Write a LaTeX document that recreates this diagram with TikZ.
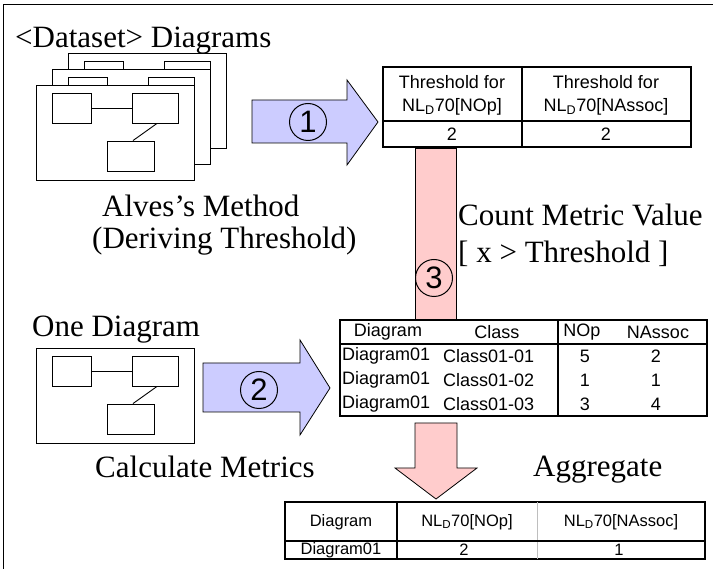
\documentclass[tikz,border=0pt]{standalone}
\usepackage{fontspec}
\setmainfont{Liberation Serif}
\newfontfamily\tabfont{Liberation Sans}
\definecolor{lavender}{RGB}{204,204,255}
\definecolor{rosy}{RGB}{255,204,204}
\definecolor{gridgray}{RGB}{190,190,190}
\newcommand{\nld}{NL\textsubscript{D}70}
% one small class diagram sheet: frame, three classes and two associations
\newcommand{\umlsheet}[3]{%
  \begin{scope}[shift={(#1,#2)}]
    \draw[sheetline, fill=white] (0,0) rectangle (158,95);
    \node[classbox, minimum width=39pt] (#3l) at (35.5,23) {};
    \node[classbox, minimum width=46pt] (#3r) at (119,23) {};
    \node[classbox, minimum width=47pt] (#3b) at (94.5,71) {};
    \draw[sheetline] (#3l.east) -- (#3r.west);
    \draw[sheetline] ([xshift=2pt]#3r.south) -- ([xshift=2.5pt]#3b.north);
  \end{scope}}
\begin{document}
\begin{tikzpicture}[x=1pt,y=-1pt,
  sheetline/.style={line width=0.9pt},
  classbox/.style={draw, line width=0.9pt, fill=white, minimum height=30pt, inner sep=0},
  label/.style={font=\fontsize{31}{31}\selectfont, inner sep=0, anchor=base west},
  tabtxt/.style={font=\tabfont\fontsize{18}{18}\selectfont, inner sep=0},
  smalltab/.style={font=\tabfont\fontsize{16.5}{16.5}\selectfont, inner sep=0},
  tabline/.style={line width=1.1pt},
  blockarrow/.style={draw, line width=0.8pt, fill=#1, line join=miter},
  circnum/.style={circle, draw, line width=1pt, minimum size=37pt, inner sep=0,
    font=\tabfont\fontsize{31}{31}\selectfont}]
\useasboundingbox (0,0) rectangle (713,569);
% frame edges
\draw[line width=1pt] (3.5,569) -- (3.5,4.5) -- (713,4.5);

% stacked dataset diagrams
\umlsheet{68}{53}{sa}
\umlsheet{52}{69}{sb}
\umlsheet{36}{85}{sc}
\node[label] (dataset) at (15,48) {<Dataset> Diagrams};
\node[label] (alves) at (102,217) {Alves’s Method};
\node[label] (deriving) at (92,249) {(Deriving Threshold)};

% step 1 arrow
\draw[blockarrow=lavender] (252,100) -- (347,100) -- (347,80) -- (378,122)
  -- (347,165) -- (347,143) -- (252,143) -- cycle;
\node[circnum] (one) at (308,122) {1};

% threshold table
\draw[tabline, fill=white] (383,67) rectangle (691,147);
\draw[tabline] (522,67) -- (522,147);
\draw[tabline] (383,121) -- (691,121);
\draw[line width=2pt] (383,147) -- (691,147);
\node[tabtxt] (th1a) at (452,82) {Threshold for};
\node[tabtxt] (th1b) at (452,107) {\nld[NOp]};
\node[tabtxt] (th2a) at (606,82) {Threshold for};
\node[tabtxt] (th2b) at (606,107) {\nld[NAssoc]};
\node[tabtxt] (tv1) at (452,134) {2};
\node[tabtxt] (tv2) at (606,134) {2};

% step 3 bar
\draw[line width=0.9pt, fill=rosy] (415,148) rectangle (456,321);
\node[circnum] (three) at (434,278) {3};
\node[label] (count) at (458,226) {Count Metric Value};
\node[label] (cond) at (458,263) {[ x > Threshold ]};

% single diagram
\umlsheet{36}{348}{sd}
\node[label] (onediag) at (32,337) {One Diagram};
\node[label] (calc) at (95,478) {Calculate Metrics};

% step 2 arrow
\draw[blockarrow=lavender] (203,363) -- (300,363) -- (300,340) -- (330,388)
  -- (300,435) -- (300,412) -- (203,412) -- cycle;
\node[circnum] (two) at (259,390) {2};

% metric table
\draw[tabline, fill=white] (340,320) rectangle (707,416);
\draw[tabline] (558,320) -- (558,416);
\draw[tabline] (340,344) -- (707,344);
\node[tabtxt] (hd) at (388,332) {Diagram};
\node[tabtxt] (hc) at (497,332) {Class};
\node[tabtxt] (hn) at (582,332) {NOp};
\node[tabtxt] (ha) at (658,332) {NAssoc};
\foreach \r/\y/\n/\a in {1/356/5/2, 2/380/1/1, 3/404/3/4}{
  \node[tabtxt, anchor=west] (d\r) at (342,\y) {Diagram01};
  \node[tabtxt, anchor=west] (c\r) at (443,\y) {Class01-0\r};
  \node[tabtxt] (n\r) at (585,\y) {\n};
  \node[tabtxt] (a\r) at (656,\y) {\a};
}

% aggregate arrow
\draw[blockarrow=rosy] (415,423) -- (457,423) -- (457,468) -- (477,468)
  -- (436,499) -- (395,468) -- (415,468) -- cycle;
\node[label] (aggr) at (533,477) {Aggregate};

% result table
\draw[tabline, fill=white] (285,502) rectangle (705,559);
\draw[line width=1.8pt] (285,502) -- (705,502);
\draw[tabline] (397,502) -- (397,559);
\draw[line width=0.8pt, gridgray] (537,502) -- (537,559);
\draw[tabline] (285,541) -- (705,541);
\node[smalltab] (rd) at (341,522) {Diagram};
\node[smalltab] (rn) at (467,522) {\nld[NOp]};
\node[smalltab] (ra) at (621,522) {\nld[NAssoc]};
\node[smalltab] (r1) at (341,550) {Diagram01};
\node[smalltab] (r2) at (464,550) {2};
\node[smalltab] (r3) at (619,550) {1};
\end{tikzpicture}
\end{document}
